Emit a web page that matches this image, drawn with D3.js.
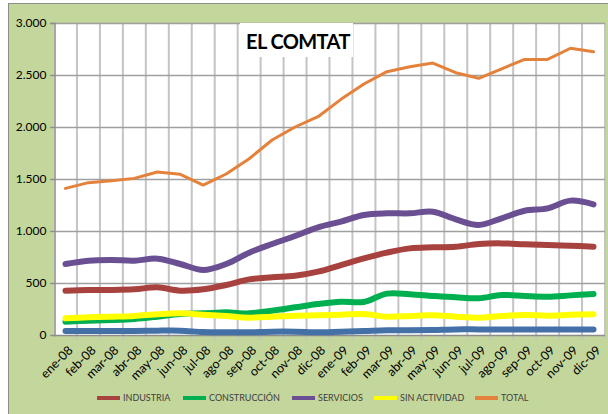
<!DOCTYPE html>
<html>
<head>
<meta charset="utf-8">
<script src="https://cdn.jsdelivr.net/npm/d3@7"></script>
<style>
    body { margin: 0; background: #fff; }
    #chart { width: 608px; height: 414px; }
    text { font-family: Lato, "Open Sans", sans-serif; }
</style>
</head>
<body>
<div id="chart"></div>
<script>
// months on the category axis
let months = ["ene-08", "feb-08", "mar-08", "abr-08", "may-08", "jun-08", "jul-08", "ago-08", "sep-08", "oct-08", "nov-08", "dic-08",
    "ene-09", "feb-09", "mar-09", "abr-09", "may-09", "jun-09", "jul-09", "ago-09", "sep-09", "oct-09", "nov-09", "dic-09"];

let yTicks = [0, 500, 1000, 1500, 2000, 2500, 3000];

// series values
let agricultura = [38, 38, 38, 38, 42, 42, 28, 26, 26, 32, 32, 26, 32, 38, 45, 45, 48, 54, 54, 54, 54, 54, 54, 54];
let industria = [426, 433, 433, 439, 458, 426, 439, 481, 535, 555, 570, 609, 673, 737, 792, 833, 843, 849, 875, 881, 872, 865, 859, 849];
let construccion = [128, 138, 144, 154, 176, 202, 208, 218, 208, 234, 266, 298, 320, 318, 398, 392, 376, 362, 353, 385, 375, 368, 381, 394];
let servicios = [683, 715, 721, 715, 734, 683, 625, 683, 792, 875, 952, 1035, 1090, 1154, 1170, 1170, 1186, 1112, 1058, 1122, 1195, 1218, 1292, 1256];
let sinActividad = [160, 170, 176, 183, 199, 208, 195, 183, 167, 176, 186, 189, 195, 202, 176, 183, 189, 176, 167, 183, 192, 186, 195, 199];
let total = [1410, 1465, 1484, 1506, 1567, 1545, 1442, 1548, 1695, 1875, 2000, 2099, 2266, 2413, 2532, 2580, 2615, 2522, 2468, 2560, 2650, 2650, 2757, 2724];

class LineChart {

    constructor(parentElement) {
        this.parentElement = parentElement;
        this.initVis();
    }

    initVis() {
        let vis = this;

        vis.svg = d3.select("#" + vis.parentElement).append("svg")
            .attr("width", 608)
            .attr("height", 414);

        // green chart area with a grey border
        vis.svg.append("rect")
            .attr("x", 8.5).attr("y", 3.5)
            .attr("width", 620).attr("height", 420)
            .attr("fill", "#c3d69b")
            .attr("stroke", "#8c8c8c");

        vis.x = d3.scaleBand()
            .domain(months)
            .range([54, 605]);

        vis.y = d3.scaleLinear()
            .domain([0, 3000])
            .range([335, 23]);

        vis.svg.append("rect")
            .attr("x", 54).attr("y", 23)
            .attr("width", 551).attr("height", 312)
            .attr("fill", "#fff");

        // vertical grid at category borders
        let borders = months.map(d => vis.x(d)).concat([vis.x.range()[1]]);
        vis.svg.append("g").selectAll("line")
            .data(borders.slice(1))
            .enter().append("line")
            .attr("x1", d => d).attr("x2", d => d)
            .attr("y1", 23).attr("y2", 339)
            .attr("stroke", "#c4c4c4")
            .attr("stroke-width", 2);

        vis.svg.append("g").selectAll("line")
            .data(yTicks.slice(1))
            .enter().append("line")
            .attr("x1", 50).attr("x2", 605)
            .attr("y1", d => vis.y(d) + 0.5).attr("y2", d => vis.y(d) + 0.5)
            .attr("stroke", "#a0a0a0")
            .attr("stroke-width", 1.5);

        // title sits on a white box
        vis.svg.append("rect")
            .attr("x", 240).attr("y", 23)
            .attr("width", 113).attr("height", 34)
            .attr("fill", "#fff");
        vis.svg.append("text")
            .attr("x", 298).attr("y", 49)
            .attr("text-anchor", "middle")
            .attr("font-size", 20)
            .attr("letter-spacing", -0.6)
            .attr("font-weight", "bold")
            .attr("fill", "#000")
            .text("EL COMTAT");

        // axes
        let locale = d3.formatLocale({decimal: ",", thousands: ".", grouping: [3], currency: ["", "€"]});
        vis.yAxis = d3.axisLeft(vis.y)
            .tickValues(yTicks)
            .tickFormat(locale.format(","))
            .tickSize(4)
            .tickPadding(4);

        vis.yGroup = vis.svg.append("g")
            .attr("transform", "translate(54.5,0)")
            .call(vis.yAxis);
        vis.yGroup.select(".domain").attr("stroke", "#8c8c8c").attr("stroke-width", 1.5);
        vis.yGroup.selectAll(".tick line").attr("stroke", "#8c8c8c");
        vis.yGroup.selectAll("text").attr("font-size", 12).attr("fill", "#000");

        vis.svg.append("line")
            .attr("x1", 54).attr("x2", 605)
            .attr("y1", 335.5).attr("y2", 335.5)
            .attr("stroke", "#8c8c8c")
            .attr("stroke-width", 1.5);

        vis.svg.append("g").selectAll("text")
            .data(months)
            .enter().append("text")
            .attr("transform", d => "translate(" + (vis.x(d) + vis.x.bandwidth() / 2 + 5) + ",348) rotate(-45)")
            .attr("text-anchor", "end")
            .attr("dy", "0.35em")
            .attr("font-size", 12.5)
            .attr("fill", "#000")
            .text(d => d);

        vis.wrangleData();
    }

    wrangleData() {
        let vis = this;

        vis.series = [
            {name: "AGRICULTURA", values: agricultura, color: "#4470a8", width: 6, smooth: true, legend: false},
            {name: "INDUSTRIA", values: industria, color: "#a8423f", width: 6, smooth: true, legend: true},
            {name: "CONSTRUCCIÓN", values: construccion, color: "#00b050", width: 6, smooth: true, legend: true},
            {name: "SERVICIOS", values: servicios, color: "#6a4f92", width: 6, smooth: true, legend: true},
            {name: "SIN ACTIVIDAD", values: sinActividad, color: "#ffff00", width: 6, smooth: true, legend: true},
            {name: "TOTAL", values: total, color: "#e4823b", width: 3, smooth: false, legend: true}
        ];

        vis.updateVis();
    }

    updateVis() {
        let vis = this;

        let xc = i => vis.x(months[i]) + vis.x.bandwidth() / 2;

        vis.series.forEach(s => {
            let line = d3.line()
                .x((d, i) => xc(i))
                .y(d => vis.y(d))
                .curve(s.smooth ? d3.curveCatmullRom : d3.curveLinear);

            vis.svg.append("path")
                .datum(s.values)
                .attr("d", line)
                .attr("fill", "none")
                .attr("stroke", s.color)
                .attr("stroke-width", s.width)
                .attr("stroke-linecap", "round")
                .attr("stroke-linejoin", "round");
        });

        // legend
        let legendX = [97, 183, 292, 374, 475];
        let legend = vis.svg.append("g").selectAll("g")
            .data(vis.series.filter(s => s.legend))
            .enter().append("g")
            .attr("transform", (d, i) => "translate(" + legendX[i] + ",398)");

        legend.append("line")
            .attr("x1", 0).attr("x2", 23)
            .attr("stroke", d => d.color)
            .attr("stroke-width", 4);

        legend.append("text")
            .attr("x", 26)
            .attr("dy", "0.35em")
            .attr("font-size", 9)
            .attr("fill", "#404040")
            .text(d => d.name);
    }
}

new LineChart("chart");
</script>
</body>
</html>
